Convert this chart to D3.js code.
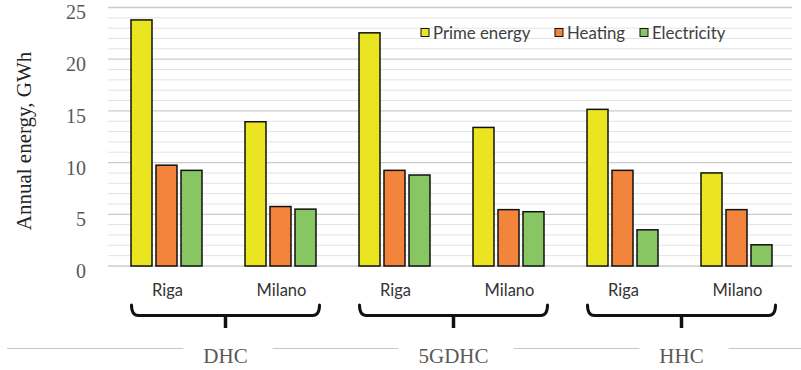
<!DOCTYPE html>
<html>
<head>
<meta charset="utf-8">
<script src="https://cdn.jsdelivr.net/npm/d3@7/dist/d3.min.js"></script>
<style>
  html, body { margin: 0; padding: 0; background: #fff; }
  svg { display: block; }
</style>
</head>
<body>
<svg id="chart" width="801" height="370"></svg>
<script>
// Annual energy by system and city
const systems = ["DHC", "5GDHC", "HHC"];
const cities = ["Riga", "Milano"];
const seriesNames = ["Prime energy", "Heating", "Electricity"];
const seriesColors = ["#EAE520", "#F2843B", "#88C663"];

// values in GWh, order: DHC Riga, DHC Milano, 5GDHC Riga, 5GDHC Milano, HHC Riga, HHC Milano
const primeEnergy = [23.8, 13.95, 22.55, 13.4, 15.15, 9.0];
const heating     = [9.75, 5.75, 9.25, 5.45, 9.25, 5.45];
const electricity = [9.25, 5.5, 8.8, 5.25, 3.5, 2.05];

const yTicks = [0, 5, 10, 15, 20, 25];
const yTitle = "Annual energy, GWh";

const categories = [];
systems.forEach(s => cities.forEach(c => categories.push({ system: s, city: c, key: s + "|" + c })));
const seriesValues = [primeEnergy, heating, electricity];

const svg = d3.select("#chart");
const plot = { left: 108, right: 792, top: 7.5, bottom: 266 };

const x0 = d3.scaleBand()
  .domain(categories.map(d => d.key))
  .range([plot.left + 1.5, plot.right + 1.5])
  .paddingInner(0).paddingOuter(0);

const x1 = d3.scaleBand()
  .domain(seriesNames)
  .range([0, x0.bandwidth()])
  .paddingInner(0.16)
  .paddingOuter(0.86);

const y = d3.scaleLinear().domain([0, 25]).range([plot.bottom, plot.top]);

// minor gridlines every 1 GWh
const minor = d3.range(0, 26).filter(v => v % 5 !== 0);
svg.append("g").selectAll("line").data(minor).join("line")
  .attr("x1", plot.left).attr("x2", plot.right)
  .attr("y1", d => y(d)).attr("y2", d => y(d))
  .attr("stroke", "#e3e3e3").attr("stroke-width", 1);

// major gridlines
svg.append("g").selectAll("line").data(yTicks).join("line")
  .attr("x1", plot.left).attr("x2", plot.right)
  .attr("y1", d => y(d)).attr("y2", d => y(d))
  .attr("stroke", "#cccccc").attr("stroke-width", 1.3);

// y axis labels
const yAxis = d3.axisLeft(y).tickValues(yTicks).tickSize(0).tickPadding(0);
const gy = svg.append("g").attr("transform", "translate(86,5)").call(yAxis);
gy.select(".domain").remove();
gy.selectAll("text")
  .attr("font-family", "Liberation Serif, Times New Roman, serif")
  .attr("font-size", 20).attr("fill", "#595959");

// y axis title
svg.append("text")
  .attr("transform", "translate(31,141) rotate(-90)")
  .attr("text-anchor", "middle")
  .attr("font-family", "Liberation Serif, Times New Roman, serif")
  .attr("font-size", 21).attr("fill", "#222")
  .text(yTitle);

// bars
const barData = [];
categories.forEach((c, i) => {
  seriesNames.forEach((s, j) => barData.push({ key: c.key, series: s, value: seriesValues[j][i], color: seriesColors[j] }));
});
svg.append("g").selectAll("rect").data(barData).join("rect")
  .attr("x", d => x0(d.key) + x1(d.series))
  .attr("width", x1.bandwidth())
  .attr("y", d => y(d.value))
  .attr("height", d => y(0) - y(d.value))
  .attr("fill", d => d.color)
  .attr("stroke", "#111").attr("stroke-width", 1.5);

// legend
const legendX = [421, 555, 640];
const legend = svg.append("g");
seriesNames.forEach((s, i) => {
  legend.append("rect")
    .attr("x", legendX[i]).attr("y", 28.5).attr("width", 8).attr("height", 8)
    .attr("fill", seriesColors[i]).attr("stroke", "#111").attr("stroke-width", 1);
  legend.append("text")
    .attr("x", legendX[i] + 12).attr("y", 38.5)
    .attr("font-family", "Lato, Carlito, Calibri, sans-serif")
    .attr("font-size", 16.8).attr("fill", "#404040")
    .text(s);
});

// city labels
svg.append("g").selectAll("text").data(categories).join("text")
  .attr("x", d => x0(d.key) + x0.bandwidth() / 2 + 1)
  .attr("y", 295.5)
  .attr("text-anchor", "middle")
  .attr("font-family", "Lato, Carlito, Calibri, sans-serif")
  .attr("font-size", 16.5).attr("fill", "#333")
  .text(d => d.city);

// system braces
const systemCenter = s => {
  const a = x0(s + "|" + cities[0]);
  const b = x0(s + "|" + cities[cities.length - 1]) + x0.bandwidth();
  return (a + b) / 2 + 2;
};
const braceHalf = 94;
systems.forEach(s => {
  const c = systemCenter(s);
  const l = c - braceHalf, r = c + braceHalf, yb = 315.5;
  svg.append("path")
    .attr("d", `M${l},305 Q${l},${yb} ${l + 7},${yb} L${r - 7},${yb} Q${r},${yb} ${r},305`)
    .attr("fill", "none").attr("stroke", "#111").attr("stroke-width", 3)
    .attr("stroke-linecap", "round");
  svg.append("line")
    .attr("x1", c).attr("x2", c).attr("y1", yb).attr("y2", 328)
    .attr("stroke", "#111").attr("stroke-width", 3.5);
});

// system label row: a rule broken by the label boxes
svg.append("line")
  .attr("x1", 7).attr("x2", 801).attr("y1", 348.5).attr("y2", 348.5)
  .attr("stroke", "#c8c8c8").attr("stroke-width", 1.2);
const labelRow = svg.append("g");
systems.forEach(s => {
  const c = systemCenter(s);
  const box = labelRow.append("rect").attr("fill", "#fff");
  const t = labelRow.append("text")
    .attr("x", c).attr("y", 363)
    .attr("text-anchor", "middle")
    .attr("font-family", "Liberation Serif, Times New Roman, serif")
    .attr("font-size", 21).attr("fill", "#595959")
    .text(s);
  const bb = t.node().getBBox();
  box.attr("x", bb.x - 20).attr("y", 340).attr("width", bb.width + 45).attr("height", 30);
});
</script>
</body>
</html>
